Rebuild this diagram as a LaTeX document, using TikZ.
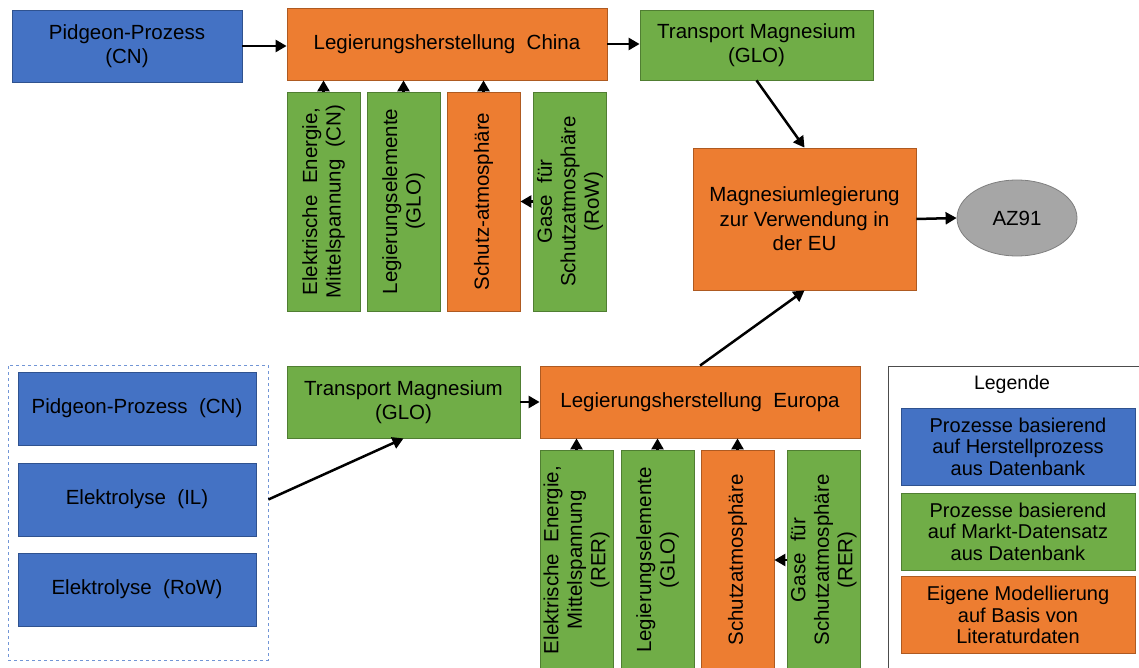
\documentclass[tikz,border=0pt]{standalone}
\usepackage{fontspec}
\setmainfont{Liberation Sans}
\usepackage{xcolor}
\usepackage{tikz}
\usetikzlibrary{shapes.geometric, arrows.meta, positioning, calc}
\definecolor{MGBlue}{RGB}{68, 114, 196}
\definecolor{MGBlueLine}{RGB}{47, 82, 143}
\definecolor{MGOrange}{RGB}{237, 125, 49}
\definecolor{MGOrangeLine}{RGB}{174, 90, 33}
\definecolor{MGGreen}{RGB}{112, 173, 71}
\definecolor{MGGreenLine}{RGB}{80, 126, 50}
\definecolor{MGGray}{RGB}{166, 166, 166}
\definecolor{MGGrayLine}{RGB}{127, 127, 127}
\definecolor{MGDash}{RGB}{114, 150, 214}

\tikzset{
  ProcBox/.style={
    rectangle, line width=0.8pt, align=center, text=black,
    font=\fontsize{20.5}{24.5}\selectfont
  },
  ProcBlue/.style={ProcBox, fill=MGBlue, draw=MGBlueLine},
  ProcGreen/.style={ProcBox, fill=MGGreen, draw=MGGreenLine},
  ProcOrange/.style={ProcBox, fill=MGOrange, draw=MGOrangeLine},
  VertBox/.style={rotate=90, minimum width=219pt, minimum height=73pt, inner sep=1pt,
    font=\fontsize{20.5}{23.5}\selectfont},
  LegendBox/.style={
    minimum width=234pt, minimum height=77pt,
    font=\fontsize{20}{21.5}\selectfont
  },
  FlowArrow/.style={-{Triangle[length=11pt,width=12pt]}, line width=2.5pt, black}
}

\begin{document}
\begin{tikzpicture}[x=1pt, y=-1pt]
    \useasboundingbox (0,0) rectangle (1139,668);

    % upper chain (China)
    \node[ProcBlue, minimum width=230pt, minimum height=72pt] (pidTop) at (127,46) {Pidgeon-Prozess\\(CN)};
    \node[ProcOrange, minimum width=320pt, minimum height=72pt] (china) at (447,44) {Legierungsherstellung\ \ China};
    \node[ProcGreen, minimum width=233pt, minimum height=70pt] (transCN) at (756.5,45) {Transport Magnesium\\(GLO)};

    \node[ProcGreen, VertBox] (elCN) at (323.5,201.5) {Elektrische\ \ Energie,\\Mittelspannung\ \ (CN)};
    \node[ProcGreen, VertBox] (legCN) at (403.5,201.5) {Legierungselemente\\(GLO)};
    \node[ProcOrange, VertBox] (schutzCN) at (483.5,201.5) {Schutz-atmosphäre};
    \node[ProcGreen, VertBox] (gasCN) at (570,201.5) {Gase\ \ für\\Schutzatmosphäre\\(RoW)};

    % final product
    \node[ProcOrange, minimum width=223pt, minimum height=142pt] (mgEU) at (804.5,219) {Magnesiumlegierung\\zur Verwendung in\\der EU};
    \node[
      ellipse, fill=MGGray, draw=MGGrayLine, line width=0.8pt,
      minimum width=120pt, minimum height=76pt,
      font=\fontsize{20.5}{24.5}\selectfont
    ] (az) at (1017,218) {AZ91};

    % lower chain (Europa)
    \node[draw=MGDash, dashed, line width=0.8pt, minimum width=260pt, minimum height=295pt] (grp) at (138,512.5) {};
    \node[ProcBlue, minimum width=238pt, minimum height=73pt] (pidEU) at (137,408.5) {Pidgeon-Prozess\ \ (CN)};
    \node[ProcBlue, minimum width=238pt, minimum height=73pt] (elIL) at (137,499.5) {Elektrolyse\ \ (IL)};
    \node[ProcBlue, minimum width=238pt, minimum height=73pt] (elRoW) at (137,589.5) {Elektrolyse\ \ (RoW)};

    \node[ProcGreen, minimum width=233pt, minimum height=72pt] (transEU) at (403.5,402) {Transport Magnesium\\(GLO)};
    \node[ProcOrange, minimum width=320pt, minimum height=72pt] (europa) at (700,402) {Legierungsherstellung\ \ Europa};

    \node[ProcGreen, VertBox, minimum width=220pt] (elEU) at (576.5,560) {Elektrische\ \ Energie,\\Mittelspannung\\(RER)};
    \node[ProcGreen, VertBox, minimum width=220pt] (legEU) at (657.5,560) {Legierungselemente\\(GLO)};
    \node[ProcOrange, VertBox, minimum width=220pt] (schutzEU) at (737.5,560) {Schutzatmosphäre};
    \node[ProcGreen, VertBox, minimum width=220pt] (gasEU) at (823.5,560) {Gase\ \ für\\Schutzatmosphäre\\(RER)};

    % arrows
    \draw[FlowArrow] (pidTop.east) -- (pidTop.east -| china.west);
    \draw[FlowArrow] (china.east) -- (china.east -| transCN.west);
    \draw[FlowArrow] (elCN.east) -- (elCN.east |- china.south);
    \draw[FlowArrow] (legCN.east) -- (legCN.east |- china.south);
    \draw[FlowArrow] (schutzCN.east) -- (schutzCN.east |- china.south);
    \draw[FlowArrow] (gasCN.north) -- (schutzCN.south);
    \draw[FlowArrow] (transCN.south) -- (mgEU.north);
    \draw[FlowArrow] (mgEU.east) -- (az.west);
    \draw[FlowArrow] (grp.east |- elIL) -- (transEU.south);
    \draw[FlowArrow] (transEU.east) -- (europa.west);
    \draw[FlowArrow] (elEU.east) -- (elEU.east |- europa.south);
    \draw[FlowArrow] (legEU.east) -- (legEU.east |- europa.south);
    \draw[FlowArrow] (schutzEU.east) -- (schutzEU.east |- europa.south);
    \draw[FlowArrow] (gasEU.north) -- (schutzEU.south);
    \draw[FlowArrow] (europa.north) -- (mgEU.south);

    % legend
    \node[draw=MGGrayLine!60!black, line width=0.9pt, minimum width=257pt, minimum height=309pt] (legFrame) at (1016.5,520.5) {};
    \node[font=\fontsize{19.5}{21.5}\selectfont] (legTitle) at (1012,384) {Legende};
    \node[ProcBlue, LegendBox] (legBlue) at (1018,446.5) {Prozesse basierend\\auf Herstellprozess\\aus Datenbank};
    \node[ProcGreen, LegendBox] (legGreen) at (1018,531.5) {Prozesse basierend\\auf Markt-Datensatz\\aus Datenbank};
    \node[ProcOrange, LegendBox] (legOrange) at (1018,615) {Eigene Modellierung\\auf Basis von\\Literaturdaten};
  \end{tikzpicture}
\end{document}
